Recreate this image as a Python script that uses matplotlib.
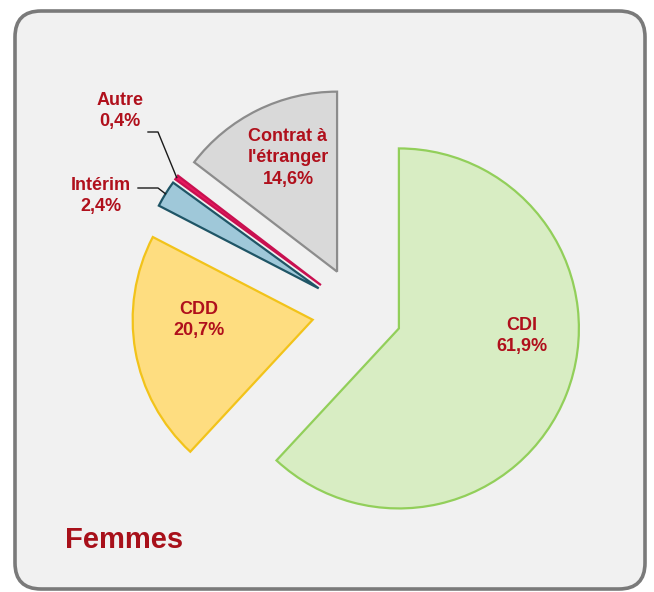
import numpy as np
import matplotlib.pyplot as plt
from matplotlib.patches import FancyBboxPatch

plt.rcParams['font.family'] = ['Liberation Sans', 'DejaVu Sans']

# données
labels = ['CDI', 'CDD', 'Intérim', 'Autre', "Contrat à\nl'étranger"]
values = [61.9, 20.7, 2.4, 0.4, 14.6]
pct_text = ['61,9%', '20,7%', '2,4%', '0,4%', '14,6%']

fill_colors = ['#d8edc3', '#fedd80', '#9fc8d9', '#e8185e', '#d9d9d9']
edge_colors = ['#92cf5a', '#f2c31a', '#1f5566', '#c81050', '#8c8c8c']
text_color = '#b0101c'

W, H = 654, 592
fig = plt.figure(figsize=(W / 100, H / 100), dpi=100)
ax = fig.add_axes([0, 0, 1, 1])

# cadre arrondi
box = FancyBboxPatch((15, 3), 630, 578, boxstyle='round,pad=0,rounding_size=26',
                     facecolor='#f1f1f1', edgecolor='#7a7a7a', linewidth=2.6, zorder=0)
ax.add_patch(box)

cx, cy, R = 357, H - 312, 180
# explode en unités de données (matplotlib ne le multiplie pas par le rayon)
wedges, _ = ax.pie(values, colors=fill_colors, startangle=90, counterclock=False,
                   explode=[0.25 * R] * len(values), center=(cx, cy), radius=R,
                   wedgeprops=dict(linewidth=1.6), frame=True)
for w, ec in zip(wedges, edge_colors):
    w.set_edgecolor(ec)
    w.set_zorder(2)
ax.set_xlim(0, W)
ax.set_ylim(0, H)
ax.set_aspect('equal')
ax.axis('off')

# positions des étiquettes (pixels, origine en haut)
label_pos = [(522, 336), (199, 320), (101, 196), (120, 111), (288, 158)]
for lab, pct, (px, py) in zip(labels, pct_text, label_pos):
    ax.text(px, H - py, lab + '\n' + pct, ha='center', va='center', fontsize=13,
            fontweight='bold', color=text_color, linespacing=1.35, zorder=5)

# lignes de rappel pour Intérim et Autre
elbows = {2: [(138, 188), (158, 188)], 3: [(148, 132), (158, 132)]}
for i, pts in elbows.items():
    w = wedges[i]
    mid = np.deg2rad((w.theta1 + w.theta2) / 2)
    ex, ey = w.center
    end = (ex + R * np.cos(mid), ey + R * np.sin(mid))
    xs = [p[0] for p in pts] + [end[0]]
    ys = [H - p[1] for p in pts] + [end[1]]
    ax.plot(xs, ys, color='#1a1a1a', linewidth=1.0, zorder=3)

ax.text(65, H - 540, 'Femmes', ha='left', va='center', fontsize=21,
        fontweight='bold', color='#a8101a', zorder=5)

fig.savefig('out.png', dpi=100, facecolor='white')
